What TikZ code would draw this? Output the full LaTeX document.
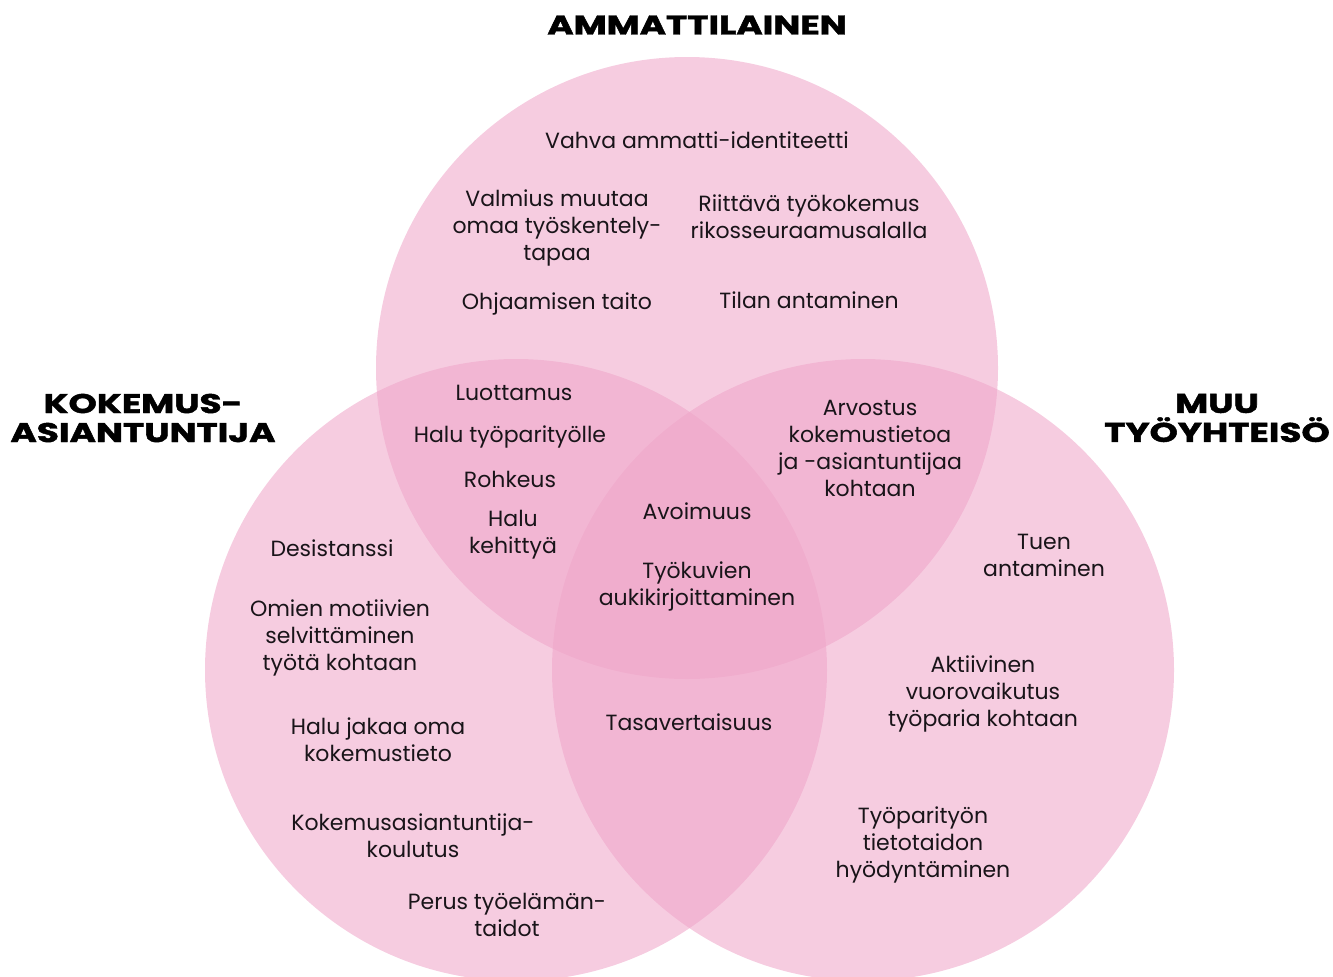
\documentclass[tikz,border=0pt]{standalone}
\usepackage{fontspec}
\setmainfont{Poppins}
\newfontfamily\titlefont{Poppins}[BoldFeatures={FakeBold=1.5}]
\usepackage{tikz}
\usetikzlibrary{positioning}
\definecolor{vennpink}{RGB}{239,166,201}
\definecolor{inkblack}{RGB}{25,20,25}

\begin{document}
\begin{tikzpicture}[
x=0.5pt, y=-0.5pt,
font=\fontsize{11}{13.5}\selectfont,
venn/.style={fill=vennpink, fill opacity=0.57},
item/.style={align=center, text=inkblack, inner sep=0pt},
title/.style={align=center, font=\fontsize{13.5}{14.5}\selectfont\titlefont\bfseries, text=black, inner sep=0pt, xscale=1.33}]
    \useasboundingbox (0,0) rectangle (1333,976);

    % Draw circles
    \fill[venn] (687,368) circle [radius=155.5pt];
    \fill[venn] (516,670) circle [radius=155.5pt];
    \fill[venn] (863,670) circle [radius=155.5pt];

    % Titles
    \node[title] (ammatti) at (697,25) {AMMATTILAINEN};
    \node[title] (kokemus) at (143,418) {KOKEMUS-\\ASIANTUNTIJA};
    \node[title] (muu) at (1217,418) {MUU\\TYÖYHTEISÖ};

    % Ammattilainen
    \node[item] (identiteetti) at (697,140) {Vahva ammatti-identiteetti};
    \node[item] (valmius) at (557,228) {Valmius muutaa\\omaa työskentely-\\tapaa};
    \node[item] (tyokokemus) at (809,217) {Riittävä työkokemus\\rikosseuraamusalalla};
    \node[item] (ohjaaminen) at (557,304) {Ohjaamisen taito};
    \node[item] (tila) at (809,300) {Tilan antaminen};

    % Ammattilainen + kokemusasiantuntija
    \node[item] (luottamus) at (514,393) {Luottamus};
    \node[item] (halutyo) at (510,437) {Halu työparityölle};
    \node[item] (rohkeus) at (510,479) {Rohkeus};
    \node[item] (kehittya) at (513,535) {Halu\\kehittyä};

    % Ammattilainen + muu tyoyhteiso
    \node[item] (arvostus) at (870,448) {Arvostus\\kokemustietoa\\ja -asiantuntijaa\\kohtaan};

    % Kaikki
    \node[item] (avoimuus) at (697,511) {Avoimuus};
    \node[item] (tyokuvat) at (697,586) {Työkuvien\\aukikirjoittaminen};

    % Kokemusasiantuntija + muu tyoyhteiso
    \node[item] (tasa) at (689,722) {Tasavertaisuus};

    % Kokemusasiantuntija
    \node[item] (desistanssi) at (332,548) {Desistanssi};
    \node[item] (motiivit) at (340,638) {Omien motiivien\\selvittäminen\\työtä kohtaan};
    \node[item] (jakaa) at (378,740) {Halu jakaa oma\\kokemustieto};
    \node[item] (koulutus) at (413,836) {Kokemusasiantuntija-\\koulutus};
    \node[item] (perus) at (507,915) {Perus työelämän-\\taidot};

    % Muu tyoyhteiso
    \node[item] (tuki) at (1044,555) {Tuen\\antaminen};
    \node[item] (aktiivinen) at (983,694) {Aktiivinen\\vuorovaikutus\\työparia kohtaan};
    \node[item] (tietotaito) at (923,845) {Työparityön\\tietotaidon\\hyödyntäminen};
\end{tikzpicture}
\end{document}
